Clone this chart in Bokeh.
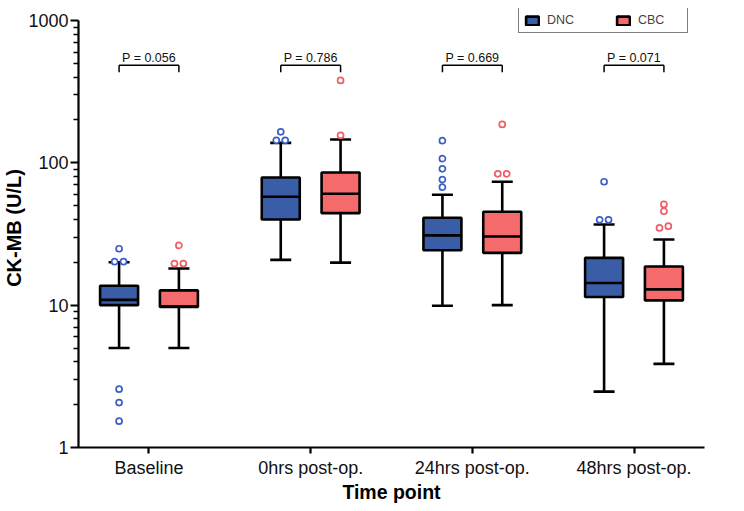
import numpy as np
from bokeh.plotting import figure
from bokeh.models import FixedTicker, Legend, LegendItem, ColumnDataSource, Range1d
from bokeh.core.properties import value
from bokeh.embed import file_html
from bokeh.resources import INLINE

# ---------------- data ----------------
time_points = ["Baseline", "0hrs post-op.", "24hrs post-op.", "48hrs post-op."]
groups = ["DNC", "CBC"]
p_values = ["P = 0.056", "P = 0.786", "P = 0.669", "P = 0.071"]

dnc_low = [5.0, 20.8, 9.9, 2.47]
dnc_q1 = [10.0, 40.0, 24.3, 11.4]
dnc_med = [10.9, 57.7, 30.9, 14.3]
dnc_q3 = [13.7, 78.9, 41.1, 21.5]
dnc_high = [20.0, 138.0, 59.6, 36.9]
dnc_outliers = [[24.9, 20.2, 20.2, 2.57, 2.07, 1.53],
                [165.0, 144.0, 144.0],
                [143.0, 107.0, 90.8, 76.3, 67.4],
                [73.6, 39.8, 39.8]]

cbc_low = [5.0, 19.9, 10.0, 3.87]
cbc_q1 = [9.7, 44.3, 23.3, 10.8]
cbc_med = [9.8, 60.6, 30.4, 12.9]
cbc_q3 = [12.7, 85.5, 45.3, 18.7]
cbc_high = [18.1, 146.0, 73.6, 28.9]
cbc_outliers = [[26.3, 19.6, 19.6],
                [379.0, 156.0],
                [186.0, 83.7, 83.7],
                [51.0, 45.7, 35.9, 34.9]]

y_ticks = [1, 10, 100, 1000]

# ---------------- style ----------------
FONT = "Liberation Sans"
DNC_FILL = "#3A5DA8"
CBC_FILL = "#F56A6B"
DNC_PT = "#3B5FC4"
CBC_PT = "#EF5E66"
OFFSET = 0.185
BOX_W = 0.235
CAP_W = 0.13
LW = 2.6

# frame extends a little above 1000 so the legend can sit there
p = figure(frame_width=626, frame_height=439, y_axis_type="log",
           x_range=Range1d(-0.436, 3.436), y_range=Range1d(1, 1214),
           output_backend="svg", toolbar_location=None,
           min_border_left=70, min_border_right=32,
           min_border_top=8, min_border_bottom=52)
p.outline_line_color = None
p.xgrid.visible = False
p.ygrid.visible = False
p.background_fill_color = "white"
p.border_fill_color = "white"

xs = np.arange(len(time_points))


def draw_group(sign, low, q1, med, q3, high, outs, fill, ptcol):
    x = xs + sign * OFFSET
    src = ColumnDataSource(dict(x=x, low=low, q1=q1, med=med, q3=q3, high=high,
                                left=x - BOX_W / 2, right=x + BOX_W / 2,
                                cl=x - CAP_W / 2, cr=x + CAP_W / 2))
    p.segment(x0="x", y0="low", x1="x", y1="high", source=src,
              line_color="black", line_width=LW)
    p.segment(x0="cl", y0="low", x1="cr", y1="low", source=src,
              line_color="black", line_width=LW)
    p.segment(x0="cl", y0="high", x1="cr", y1="high", source=src,
              line_color="black", line_width=LW)
    box = p.quad(left="left", right="right", bottom="q1", top="q3", source=src,
                 fill_color=fill, line_color="black", line_width=LW)
    p.segment(x0="left", y0="med", x1="right", y1="med", source=src,
              line_color="black", line_width=LW)
    # outliers, dodged horizontally when nearly equal
    ox, oy = [], []
    step = 0.055
    for i, vals in enumerate(outs):
        vals = sorted(vals)
        clusters = []
        for v in vals:
            if clusters and abs(np.log10(v) - np.log10(clusters[-1][-1])) < 0.02:
                clusters[-1].append(v)
            else:
                clusters.append([v])
        for c in clusters:
            n = len(c)
            for k, v in enumerate(c):
                ox.append(x[i] + (k - (n - 1) / 2) * step)
                oy.append(v)
    p.scatter(ox, oy, marker="circle", size=6, fill_color="white",
              line_color=ptcol, line_width=1.7)
    return box


box_dnc = draw_group(-1, dnc_low, dnc_q1, dnc_med, dnc_q3, dnc_high,
                     dnc_outliers, DNC_FILL, DNC_PT)
box_cbc = draw_group(1, cbc_low, cbc_q1, cbc_med, cbc_q3, cbc_high,
                     cbc_outliers, CBC_FILL, CBC_PT)

# P-value brackets
br_top, br_leg, txt_y = 485, 432, 545
bx0 = xs - OFFSET
bx1 = xs + OFFSET
p.segment(x0=bx0, y0=[br_top] * 4, x1=bx1, y1=[br_top] * 4,
          line_color="black", line_width=1.5)
p.segment(x0=bx0, y0=[br_top] * 4, x1=bx0, y1=[br_leg] * 4,
          line_color="black", line_width=1.5)
p.segment(x0=bx1, y0=[br_top] * 4, x1=bx1, y1=[br_leg] * 4,
          line_color="black", line_width=1.5)
p.text(x=xs, y=[txt_y] * 4, text=p_values, text_align="center",
       text_baseline="alphabetic", text_font=value(FONT),
       text_font_size="12.5px", text_color="#111111")

# axes
p.xaxis.ticker = FixedTicker(ticks=list(xs))
p.xaxis.major_label_overrides = {int(i): t for i, t in zip(xs, time_points)}
p.xaxis.minor_tick_line_color = None
p.xaxis.axis_label = "Time point"

minor = [m * 10 ** d for d in range(0, 3) for m in range(2, 10)]
p.yaxis.ticker = FixedTicker(ticks=y_ticks, minor_ticks=minor)
p.yaxis.major_label_overrides = {t: str(t) for t in y_ticks}
p.yaxis.axis_label = "CK-MB (U/L)"
p.yaxis.bounds = (1, 1000)

for ax in (p.xaxis[0], p.yaxis[0]):
    ax.axis_line_width = 2.2
    ax.axis_line_color = "black"
    ax.major_tick_line_width = 2.2
    ax.minor_tick_line_width = 1.6
    ax.major_tick_line_color = "black"
    ax.minor_tick_line_color = "black" if ax is p.yaxis[0] else None
    ax.major_tick_in = 0
    ax.minor_tick_in = 0
    ax.major_label_text_font = FONT
    ax.major_label_text_font_size = "18px"
    ax.major_label_text_color = "#111111"
    ax.axis_label_text_font = FONT
    ax.axis_label_text_font_style = "bold"
    ax.axis_label_text_color = "black"

p.xaxis.major_tick_out = 6
p.xaxis.major_label_standoff = 4
p.xaxis.axis_label_standoff = 0
p.xaxis.axis_label_text_font_size = "19.5px"
p.yaxis.major_tick_out = 8
p.yaxis.minor_tick_out = 5
p.yaxis.major_label_standoff = 2
p.yaxis.axis_label_standoff = 0
p.yaxis.axis_label_text_font_size = "20px"

legend = Legend(items=[LegendItem(label="DNC", renderers=[box_dnc]),
                       LegendItem(label="CBC", renderers=[box_cbc])],
                orientation="horizontal", location=(440, 414))
legend.border_line_color = "black"
legend.border_line_width = 1.5
legend.background_fill_alpha = 1
legend.padding = 5
legend.margin = 0
legend.spacing = 24
legend.glyph_width = 16
legend.glyph_height = 11
legend.label_height = 11
legend.label_standoff = 7
legend.label_width = 44
legend.label_text_font = FONT
legend.label_text_font_size = "12.5px"
legend.label_text_baseline = "middle"
p.add_layout(legend)

open("out.html", "w").write(file_html(p, INLINE))
